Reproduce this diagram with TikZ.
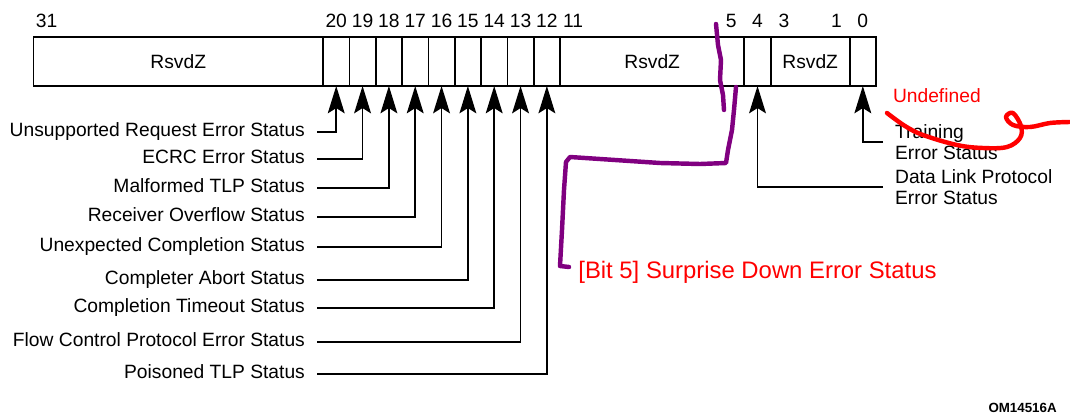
\documentclass[tikz,border=0pt]{standalone}
\usepackage{fontspec}
\setmainfont{Liberation Sans}
\usetikzlibrary{arrows.meta,positioning,calc}
\definecolor{penPurple}{HTML}{800080}
\definecolor{penRed}{HTML}{FF0000}
\tikzset{
	cell/.style={draw, line width=0.9pt, anchor=north west, minimum height=0.93cm, inner sep=0, outer sep=0},
	bitnum/.style={inner sep=0},
	lbl/.style={inner sep=0, outer xsep=0.23cm, text height=0.72em, text depth=0.2em},
	rlbl/.style={inner sep=0, outer xsep=0.23cm, align=left, anchor=west},
	arr/.style={-{Stealth[length=5.2mm,width=3.2mm,inset=1mm]}, line width=0.9pt},
	pen/.style={line width=2.4pt, line cap=round, line join=round}
}

\begin{document}
\begin{tikzpicture}[x=0.019cm, y=-0.019cm, font=\fontsize{10.4}{11.6}\selectfont]
	\useasboundingbox (0,0) rectangle (1070,418);

	% register fields
	\node[cell, minimum width=5.5cm] (r31) at (33.5,37) {RsvdZ};
	\foreach \b in {20,...,12}
		\node[cell, minimum width=0.5cm] (b\b) at ({876-26.33*(\b+1)},37) {};
	\node[cell, minimum width=3.5cm] (r11) at ({876-26.33*12},37) {RsvdZ};
	\node[cell, minimum width=0.5cm] (b4) at ({876-26.33*5},37) {};
	\node[cell, minimum width=1.5cm] (r3) at ({876-26.33*4},37) {RsvdZ};
	\node[cell, minimum width=0.5cm] (b0) at ({876-26.33},37) {};

	\foreach \b in {31,20,19,...,11,5,4,3,1,0}
		\node[bitnum] (n\b) at ({876-26.33*(\b+0.5)},21) {\b};

	% status bits
	\foreach \b/\y/\txt in {20/132/Unsupported Request Error Status,
			19/159/ECRC Error Status,
			18/188/Malformed TLP Status,
			17/217/Receiver Overflow Status,
			16/247/Unexpected Completion Status,
			15/280/Completer Abort Status,
			14/308/Completion Timeout Status,
			13/342/Flow Control Protocol Error Status,
			12/374/Poisoned TLP Status}{
		\node[lbl, anchor=east] (l\b) at (317,\y) {\txt};
		\draw[arr] (l\b.east) -| (b\b.south);
	}
	\node[rlbl] (l0) at (883,142) {Training\\Error Status};
	\node[rlbl] (l4) at (883,187) {Data Link Protocol\\Error Status};
	\draw[arr] (l0.west) -| (b0.south);
	\draw[arr] (l4.west) -| (b4.south);

	% hand notes
	\node[lbl, anchor=west, text=penRed, outer xsep=0] (undef) at (893,98) {Undefined};
	\node[inner sep=0, anchor=west, text=penRed, font=\fontsize{12.9}{14}\selectfont] (sd) at (578,272) {[Bit 5] Surprise Down Error Status};
	\draw[pen, penPurple] (716,24) -- (718,45) -- (721,60) -- (720,80) -- (723,95) -- (724,110);
	\draw[pen, penPurple] (736,87) -- (734,110) -- (732,130) -- (728,150) -- (726,163) -- (700,164)
		-- (660,163) -- (630,161) -- (600,159) -- (570,157) -- (566,162) -- (564,190)
		-- (562,230) -- (560,266) -- (569,267);
	\draw[pen, penRed] plot[smooth, tension=0.6] coordinates {(887,113) (905,126) (923,135) (957,145)
		(983,148) (1007,147) (1020,138) (1021,126) (1013,113) (1006,117) (1013,125) (1030,127)
		(1050,123) (1070,122)};

	\node[inner sep=0, anchor=east, font=\fontsize{7.2}{9}\bfseries] (fig) at (1057,408) {OM14516A};
\end{tikzpicture}
\end{document}
